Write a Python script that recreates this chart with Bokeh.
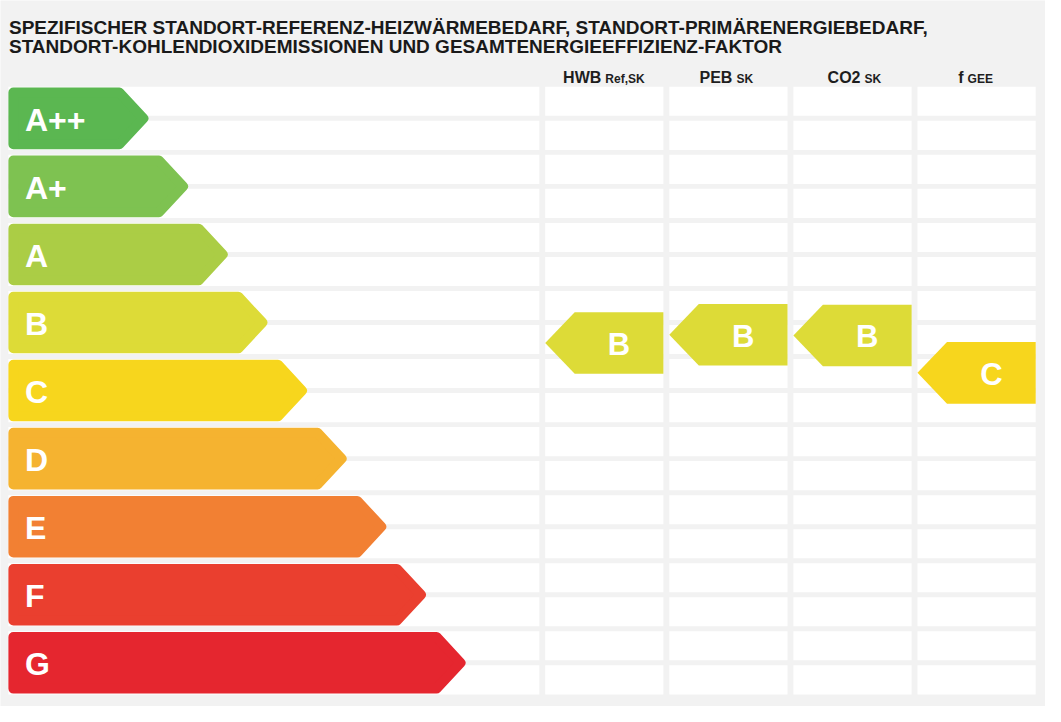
import math
from bokeh.plotting import figure
from bokeh.models import Range1d, Label
from bokeh.core.properties import value
from bokeh.embed import file_html
from bokeh.resources import INLINE

# ---------------- data ----------------
title_lines = [
    "SPEZIFISCHER STANDORT-REFERENZ-HEIZWÄRMEBEDARF, STANDORT-PRIMÄRENERGIEBEDARF,",
    "STANDORT-KOHLENDIOXIDEMISSIONEN UND GESAMTENERGIEEFFIZIENZ-FAKTOR",
]
classes = ["A++", "A+", "A", "B", "C", "D", "E", "F", "G"]
class_colors = ["#5bb751", "#7ec251", "#abcd45", "#dddb37", "#f7d61d",
                "#f5b330", "#f28033", "#ea3f2f", "#e5262f"]
indicators = ["HWB", "PEB", "CO2", "f"]
indicator_subs = ["Ref,SK", "SK", "SK", "GEE"]
# marker position on the class scale (A++ = 0 ... G = 8)
marker_pos = [3.30, 3.18, 3.19, 3.74]
marker_class = ["B", "B", "B", "C"]

# ---------------- layout ----------------
W, H = 1045, 706
S = 68.06           # px per class
Y0 = 117.83         # px of class A++ centre from top
FONT = value("Liberation Sans")
BG = "#f2f2f2"

def px_to_y(p):
    return (p - Y0) / S

p = figure(width=W, height=H, output_backend="svg", toolbar_location=None,
           x_range=Range1d(0, W), y_range=Range1d(px_to_y(H), px_to_y(0)),
           x_axis_location=None, y_axis_location=None, min_border=0,
           background_fill_color=BG, border_fill_color=BG)
p.outline_line_color = None
p.grid.visible = False
p.xgrid.grid_line_color = None
p.ygrid.grid_line_color = None

# white rows
left_x0, left_x1 = 7.9, 538.8
col_left = [544.7, 668.8, 792.9, 917.0]
col_w = 118.2
rx, ry, rw = [], [], []
for i in range(len(classes)):
    for off in (-0.25, 0.25):
        rx.append((left_x0 + left_x1) / 2); ry.append(i + off); rw.append(left_x1 - left_x0)
        for cl in col_left:
            rx.append(cl + col_w / 2); ry.append(i + off); rw.append(col_w)
p.rect(x=rx, y=ry, width=rw, height=29.1 / S, fill_color="white", line_color=None)

# class arrows (rounded via round line joins)
half = 30.8
d = 5.0
L = 28.6
xs, ys = [], []
for i, c in enumerate(classes):
    tip = 149.7 + 39.64 * i
    ln = math.hypot(L, half)
    shift = d * ln / half
    tip_n = tip - shift
    xb = tip - shift - L * (half - d) / half
    top = i + (-half + d) / S
    bot = i + (half - d) / S
    x0 = left_x0 + d
    xs.append([x0, xb, tip_n, xb, x0])
    ys.append([top, top, i, bot, bot])
p.patches(xs=xs, ys=ys, fill_color=class_colors, line_color=class_colors,
          line_width=2 * d, line_join="round")
p.text(x=[24.5] * len(classes), y=[i + 0.02 for i in range(len(classes))], text=classes,
       text_color="white", text_font=FONT, text_font_style="bold",
       text_font_size="32px", text_align="left", text_baseline="middle")

# indicator markers
mt = 29.5
mxs, mys, mcol, tx = [], [], [], []
for k, cl in enumerate(col_left):
    y = marker_pos[k]
    h = half / S
    mxs.append([cl, cl + mt, cl + col_w, cl + col_w, cl + mt])
    mys.append([y, y - h, y - h, y + h, y + h])
    mcol.append(class_colors[classes.index(marker_class[k])])
    tx.append(cl + mt + (col_w - mt) / 2)
p.patches(xs=mxs, ys=mys, fill_color=mcol, line_color=None)
p.text(x=tx, y=[v + 0.02 for v in marker_pos], text=marker_class, text_color="white",
       text_font=FONT, text_font_style="bold", text_font_size="31px",
       text_align="center", text_baseline="middle")

# column headers
split_off = [-3, 4, 8, -13]
hx = [cl + col_w / 2 + o for cl, o in zip(col_left, split_off)]
p.text(x=hx, y=[px_to_y(76.6)] * 4, text=indicators, text_color="#1e1e1e",
       text_font=FONT, text_font_style="bold", text_font_size="16px",
       text_align="right", text_baseline="alphabetic")
p.text(x=[v + 4 for v in hx], y=[px_to_y(78.9)] * 4, text=indicator_subs,
       text_color="#1e1e1e", text_font=FONT, text_font_style="bold",
       text_font_size="12px", text_align="left", text_baseline="alphabetic")

# title
for j, t in enumerate(title_lines):
    p.add_layout(Label(x=8.5, y=H - (26.7 + 19.0 * j), x_units="screen", y_units="screen",
                       text=t, text_font="Liberation Sans", text_font_style="bold",
                       text_font_size="19px", text_color="#1a1a1a",
                       text_baseline="alphabetic", text_align="left"))

html = file_html(p, INLINE)
html = html.replace("<body>", '<body style="background-color:%s;">' % BG, 1)
open("out.html", "w").write(html)
